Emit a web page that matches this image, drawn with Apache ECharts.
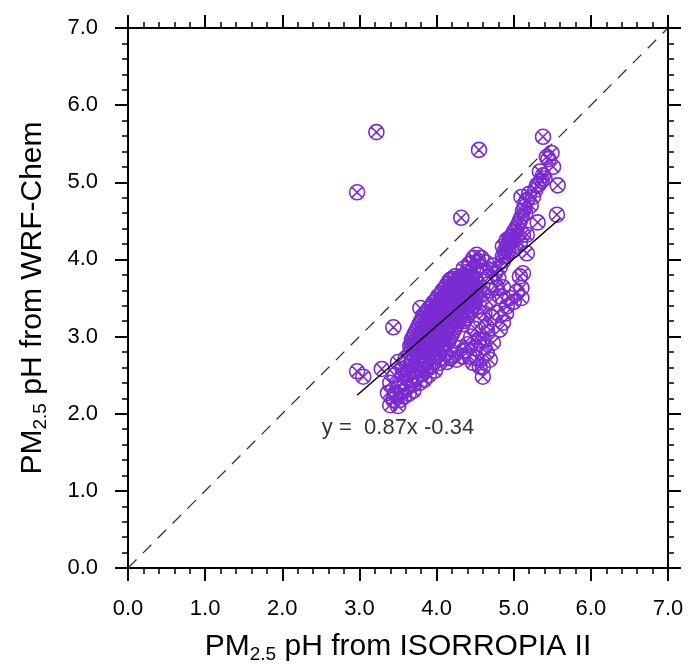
<!DOCTYPE html>
<html>
<head>
<meta charset="utf-8">
<title>PM2.5 pH</title>
<script src="https://cdn.jsdelivr.net/npm/echarts@6/dist/echarts.min.js"></script>
<style>
    html, body { margin: 0; padding: 0; background: #fff; }
    #main { width: 690px; height: 669px; }
</style>
</head>
<body>
<div id="main"></div>
<script>
// 坐标轴刻度
var tickValues = [0, 1, 2, 3, 4, 5, 6, 7];

// 离群点
var outliers = [
    [2.97, 4.87], [3.22, 5.65], [4.55, 5.42], [4.32, 4.54], [5.38, 5.59]
];

// 右上方的斜条
var upperStreak = [
    [5.10, 4.81], [5.25, 4.81], [5.30, 4.96], [5.38, 5.09], [5.34, 5.14], [5.49, 5.38],
    [5.43, 5.33], [5.51, 5.20], [5.57, 4.96], [5.56, 4.58], [5.31, 4.48], [5.17, 4.77],
    [5.12, 4.63], [5.08, 4.50], [5.04, 4.42], [4.97, 4.29], [4.91, 4.17], [5.17, 4.32],
    [5.17, 4.08], [5.45, 5.30], [5.40, 5.05], [5.28, 4.90], [5.22, 4.70], [5.15, 4.60],
    [5.10, 4.55], [5.06, 4.45], [5.00, 4.35], [4.95, 4.25], [4.93, 4.20], [4.88, 4.10],
    [5.02, 4.38], [5.14, 4.68], [5.20, 4.85], [5.33, 4.98], [5.36, 5.02], [4.86, 4.17],
    [4.99, 4.12], [4.91, 4.25], [5.08, 4.21], [5.12, 4.32], [4.86, 4.04], [4.93, 4.10],
    [5.02, 4.18], [4.95, 4.28]
];

// 中部的驼峰
var humpCluster = [
    [4.35, 3.88], [4.42, 3.94], [4.48, 4.02], [4.52, 4.06], [4.58, 4.02], [4.64, 3.96],
    [4.70, 3.86], [4.76, 3.82], [4.82, 3.90], [4.86, 3.98], [4.90, 4.05], [4.44, 3.95],
    [4.56, 3.91], [4.47, 3.86], [4.62, 3.86], [4.69, 3.78], [4.80, 3.76], [4.74, 3.92],
    [4.40, 3.84], [4.54, 3.98]
];

// 密集区右侧的散点
var rightArm = [
    [5.08, 3.78], [5.10, 3.63], [5.10, 3.50], [4.78, 3.63], [4.82, 3.52], [4.91, 3.39],
    [4.78, 3.31], [4.65, 3.13], [4.82, 3.09], [4.60, 2.96], [4.65, 2.79], [4.60, 2.61],
    [4.60, 2.48], [4.47, 2.66], [4.34, 2.74], [4.56, 2.61], [4.69, 2.70], [4.73, 2.92],
    [4.43, 2.74], [5.12, 3.82], [5.04, 3.58], [4.95, 3.50], [4.86, 3.64], [4.86, 3.18],
    [4.90, 3.30], [5.00, 3.45], [4.55, 3.40], [4.62, 3.30], [4.58, 3.20], [4.50, 3.10],
    [4.45, 3.00], [4.40, 2.90], [4.35, 2.82], [4.68, 3.45], [4.72, 3.25], [4.66, 3.05],
    [4.55, 2.95], [4.50, 2.85], [4.28, 2.85], [4.22, 2.76], [4.60, 3.55], [4.70, 3.60],
    [4.52, 2.72], [4.62, 2.86]
];

// 密集核心区
var denseCore = [
    [4.24, 3.78], [4.32, 3.78], [4.40, 3.78], [4.46, 3.78],
    [4.20, 3.75], [4.28, 3.75], [4.36, 3.75], [4.44, 3.75], [4.50, 3.75],
    [4.18, 3.72], [4.26, 3.72], [4.34, 3.72], [4.42, 3.72], [4.50, 3.72],
    [4.14, 3.68], [4.22, 3.68], [4.30, 3.68], [4.38, 3.68], [4.46, 3.68], [4.54, 3.68],
    [4.12, 3.64], [4.20, 3.64], [4.28, 3.64], [4.36, 3.64], [4.44, 3.64], [4.52, 3.64],
    [4.08, 3.60], [4.16, 3.60], [4.24, 3.60], [4.32, 3.60], [4.40, 3.60], [4.48, 3.60], [4.55, 3.60],
    [4.06, 3.56], [4.14, 3.56], [4.22, 3.56], [4.30, 3.56], [4.38, 3.56], [4.46, 3.56], [4.52, 3.56],
    [4.02, 3.52], [4.10, 3.52], [4.18, 3.52], [4.26, 3.52], [4.34, 3.52], [4.42, 3.52], [4.50, 3.52],
    [4.00, 3.48], [4.08, 3.48], [4.16, 3.48], [4.24, 3.48], [4.32, 3.48], [4.40, 3.48], [4.48, 3.48],
    [3.96, 3.44], [4.04, 3.44], [4.12, 3.44], [4.20, 3.44], [4.28, 3.44], [4.36, 3.44], [4.46, 3.44],
    [3.94, 3.40], [4.02, 3.40], [4.10, 3.40], [4.18, 3.40], [4.26, 3.40], [4.42, 3.40], [4.48, 3.40],
    [3.90, 3.36], [3.98, 3.36], [4.06, 3.36], [4.14, 3.36], [4.22, 3.36], [4.44, 3.36],
    [3.88, 3.32], [3.96, 3.32], [4.04, 3.32], [4.12, 3.32], [4.20, 3.32], [4.38, 3.32], [4.44, 3.32],
    [3.84, 3.28], [3.92, 3.28], [4.00, 3.28], [4.08, 3.28], [4.16, 3.28], [4.24, 3.28], [4.40, 3.28],
    [3.82, 3.24], [3.90, 3.24], [3.98, 3.24], [4.06, 3.24], [4.14, 3.24], [4.22, 3.24], [4.30, 3.24], [4.38, 3.24],
    [3.80, 3.20], [3.88, 3.20], [3.96, 3.20], [4.04, 3.20], [4.12, 3.20], [4.20, 3.20], [4.28, 3.20], [4.34, 3.20],
    [3.78, 3.16], [3.86, 3.16], [3.94, 3.16], [4.02, 3.16], [4.10, 3.16], [4.18, 3.16], [4.26, 3.16], [4.34, 3.16],
    [3.76, 3.12], [3.84, 3.12], [3.92, 3.12], [4.00, 3.12], [4.08, 3.12], [4.16, 3.12], [4.24, 3.12],
    [3.74, 3.08], [3.82, 3.08], [3.90, 3.08], [3.98, 3.08], [4.06, 3.08], [4.14, 3.08], [4.22, 3.08],
    [3.72, 3.04], [3.80, 3.04], [3.88, 3.04], [3.96, 3.04], [4.04, 3.04], [4.12, 3.04], [4.20, 3.04],
    [3.70, 3.00], [3.78, 3.00], [3.86, 3.00], [3.94, 3.00], [4.02, 3.00], [4.10, 3.00], [4.18, 3.00],
    [3.68, 2.96], [3.76, 2.96], [3.84, 2.96], [3.92, 2.96], [4.00, 2.96], [4.08, 2.96], [4.16, 2.96],
    [3.68, 2.92], [3.76, 2.92], [3.84, 2.92], [3.92, 2.92], [4.00, 2.92], [4.08, 2.92], [4.14, 2.92],
    [3.66, 2.88], [3.74, 2.88], [3.82, 2.88], [3.90, 2.88], [3.98, 2.88], [4.06, 2.88],
    [3.68, 2.84], [3.76, 2.84], [3.84, 2.84], [3.92, 2.84], [4.00, 2.84], [4.08, 2.84],
    [3.66, 2.80], [3.74, 2.80], [3.82, 2.80], [3.90, 2.80], [3.98, 2.80],
    [3.70, 2.76], [3.78, 2.76], [3.86, 2.76], [3.94, 2.76], [4.02, 2.76]
];

// 左下方的尾部
var lowerTail = [
    [3.29, 2.58], [3.50, 2.67], [3.40, 2.40], [3.37, 2.27], [3.40, 2.11], [3.53, 2.18],
    [3.68, 2.67], [3.46, 2.50], [3.56, 2.58], [3.62, 2.50], [3.72, 2.58], [3.80, 2.64],
    [3.88, 2.68], [3.96, 2.66], [4.04, 2.66], [4.13, 2.67], [4.26, 2.70], [3.50, 2.34],
    [3.58, 2.42], [3.66, 2.44], [3.74, 2.48], [3.82, 2.52], [3.90, 2.50], [3.98, 2.56],
    [3.46, 2.26], [3.54, 2.28], [3.62, 2.34], [3.70, 2.38], [3.78, 2.40], [3.44, 2.18],
    [3.58, 2.22], [3.64, 2.26], [3.50, 2.10], [3.60, 2.72], [3.76, 2.72], [3.92, 2.60],
    [3.84, 2.44], [3.56, 2.50], [3.66, 2.62], [3.74, 2.66], [3.70, 2.30], [3.86, 2.58],
    [4.08, 2.72], [4.18, 2.72], [3.64, 2.54], [3.80, 2.56]
];

// 左侧零散点
var leftScatter = [
    [2.97, 2.55], [3.05, 2.48], [3.44, 3.12], [3.79, 3.37], [4.17, 3.73]
];

// 1:1 参考线与拟合线 y = 0.87x - 0.34
var oneToOne = [[0, 0], [7, 7]];
var fitLine = [[2.97, 2.24], [5.60, 4.53]];
var fitText = 'y =  0.87x -0.34';
var fitTextAt = [3.50, 1.81];

var purple = '#7b2bd2';
var fontName = '"Liberation Sans", Arial, Helvetica, sans-serif';
// 圆圈加叉的符号
var circleCross = 'path://M10,0A10,10,0,1,1,-10,0A10,10,0,1,1,10,0ZM-7.1,-7.1L7.1,7.1M7.1,-7.1L-7.1,7.1';

function axisCommon(showLabel) {
    return {
        type: 'value',
        min: 0,
        max: 7,
        interval: 1,
        axisLine: { show: true, onZero: false, lineStyle: { color: '#000', width: 2 } },
        axisTick: { show: true, inside: false, length: 13, lineStyle: { color: '#000', width: 2 } },
        minorTick: { show: true, splitNumber: 5, length: 6, lineStyle: { color: '#000', width: 1.5 } },
        splitLine: { show: false },
        minorSplitLine: { show: false },
        axisLabel: {
            show: showLabel,
            margin: 30,
            color: '#000',
            fontSize: 22,
            fontFamily: fontName,
            formatter: function (v) { return v.toFixed(1); }
        }
    };
}

function axisName(text) {
    return '{a|PM}{s|2.5}{a| pH from ' + text + '}';
}

var nameRich = {
    a: { fontSize: 30, lineHeight: 34, color: '#000', fontFamily: fontName },
    s: { fontSize: 19, lineHeight: 19, verticalAlign: 'bottom', color: '#000', fontFamily: fontName }
};

var allPoints = [].concat(outliers, upperStreak, humpCluster, rightArm, denseCore, lowerTail, leftScatter);

var xBottom = axisCommon(true);
xBottom.position = 'bottom';
xBottom.name = axisName('ISORROPIA II');
xBottom.nameLocation = 'middle';
xBottom.nameGap = 62;
xBottom.nameTextStyle = { rich: nameRich };

var xTop = axisCommon(false);
xTop.position = 'top';

var yLeft = axisCommon(true);
yLeft.position = 'left';
yLeft.name = axisName('WRF-Chem');
yLeft.nameLocation = 'middle';
yLeft.nameGap = 78;
yLeft.nameTextStyle = { rich: nameRich };

var yRight = axisCommon(false);
yRight.position = 'right';

var chart = echarts.init(document.getElementById('main'), null, { renderer: 'canvas' });
chart.setOption({
    animation: false,
    backgroundColor: '#fff',
    grid: { left: 128, right: 22, top: 28, bottom: 101, containLabel: false },
    xAxis: [xBottom, xTop],
    yAxis: [yLeft, yRight],
    series: [
        {
            type: 'line',
            data: oneToOne,
            symbol: 'none',
            silent: true,
            z: 1,
            lineStyle: { color: '#333', width: 1.3, type: [12, 9] }
        },
        {
            type: 'scatter',
            data: allPoints,
            symbol: circleCross,
            symbolSize: 15,
            z: 2,
            itemStyle: { color: 'rgba(0,0,0,0)', borderColor: purple, borderWidth: 1.6, opacity: 1 },
            emphasis: { disabled: true }
        },
        {
            type: 'line',
            data: fitLine,
            symbol: 'none',
            silent: true,
            z: 3,
            lineStyle: { color: '#000', width: 1.5 }
        },
        {
            type: 'scatter',
            data: [fitTextAt],
            symbolSize: 0,
            silent: true,
            z: 4,
            label: {
                show: true,
                position: 'inside',
                formatter: fitText,
                color: '#000',
                fontSize: 22,
                fontFamily: fontName
            }
        }
    ]
});
</script>
</body>
</html>
